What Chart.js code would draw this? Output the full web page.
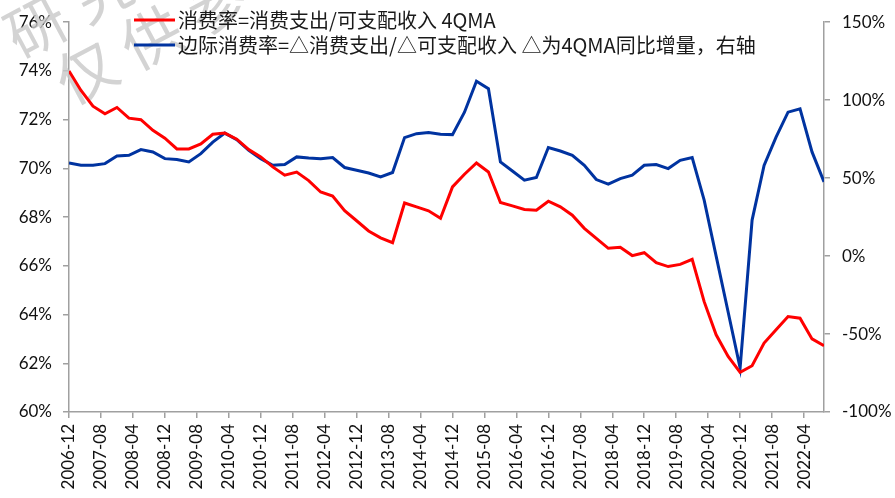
<!DOCTYPE html>
<html>
<head>
<meta charset="utf-8">
<script src="https://cdn.jsdelivr.net/npm/chart.js@4.4.1/dist/chart.umd.min.js"></script>
<style>
  html, body { margin: 0; padding: 0; background: #fff; }
  #wrap { width: 895px; height: 498px; }
</style>
</head>
<body>
<div id="wrap"><canvas id="chart" width="895" height="498"></canvas></div>
<script>
// 季度数据 (4QMA)
const quarters = [
  '2006-12','2007-03','2007-06','2007-09','2007-12','2008-03','2008-06','2008-09',
  '2008-12','2009-03','2009-06','2009-09','2009-12','2010-03','2010-06','2010-09',
  '2010-12','2011-03','2011-06','2011-09','2011-12','2012-03','2012-06','2012-09',
  '2012-12','2013-03','2013-06','2013-09','2013-12','2014-03','2014-06','2014-09',
  '2014-12','2015-03','2015-06','2015-09','2015-12','2016-03','2016-06','2016-09',
  '2016-12','2017-03','2017-06','2017-09','2017-12','2018-03','2018-06','2018-09',
  '2018-12','2019-03','2019-06','2019-09','2019-12','2020-03','2020-06','2020-09',
  '2020-12','2021-03','2021-06','2021-09','2021-12','2022-03','2022-06','2022-09'
];

// 消费率 (%), 左轴
const consumptionRate = [
  74.0, 73.2, 72.55, 72.24, 72.5, 72.06, 72.0, 71.56,
  71.24, 70.8, 70.8, 71.0, 71.4, 71.45, 71.2, 70.77,
  70.47, 70.06, 69.72, 69.85, 69.5, 69.03, 68.86, 68.26,
  67.85, 67.43, 67.15, 66.95, 68.58, 68.42, 68.26, 67.95,
  69.24, 69.76, 70.22, 69.85, 68.6, 68.46, 68.31, 68.28,
  68.65, 68.42, 68.08, 67.54, 67.13, 66.72, 66.76, 66.42,
  66.54, 66.13, 65.97, 66.06, 66.27, 64.53, 63.17, 62.28,
  61.63, 61.9, 62.83, 63.38, 63.92, 63.85, 63.0, 62.72
];

// 边际消费率 (%), 右轴
const marginalRate = [
  59.7, 58.2, 58.2, 59.3, 64.2, 64.6, 68.3, 66.8,
  62.5, 61.9, 60.4, 65.7, 73.1, 78.9, 74.7, 67.8,
  62.5, 58.2, 58.7, 63.6, 62.9, 62.5, 63.2, 56.8,
  55.1, 53.3, 50.8, 53.6, 76.0, 78.5, 79.2, 78.1,
  77.9, 92.3, 112.2, 107.3, 60.4, 54.6, 48.7, 50.4,
  69.6, 67.4, 64.6, 58.2, 49.1, 46.1, 49.7, 51.9,
  58.2, 58.7, 56.1, 61.4, 63.2, 35.9, 0.0, -35.9,
  -71.7, 23.1, 58.2, 76.3, 92.3, 94.5, 66.8, 47.6
];

const xTickLabels = [
  '2006-12','2007-08','2008-04','2008-12','2009-08','2010-04','2010-12','2011-08',
  '2012-04','2012-12','2013-08','2014-04','2014-12','2015-08','2016-04','2016-12',
  '2017-08','2018-04','2018-12','2019-08','2020-04','2020-12','2021-08','2022-04'
];

const seriesNames = [
  '消费率=消费支出/可支配收入 4QMA',
  '边际消费率=△消费支出/△可支配收入 △为4QMA同比增量，右轴'
];
const seriesColors = ['#FF0000', '#0033A0'];

const watermarkLines = ['研究报告', '仅供参考'];

// 月份序号 (相对 2006-12)
function monthIndex(s) {
  const [y, m] = s.split('-').map(Number);
  return (y - 2006) * 12 + m - 12;
}

const axisColor = '#A0A0A0';
const tickFont = { family: 'Lato', size: 17 };

const watermark = {
  id: 'watermark',
  beforeDatasetsDraw(chart) {
    const ctx = chart.ctx;
    ctx.save();
    ctx.fillStyle = 'rgba(200,200,200,0.8)';
    ctx.font = '60px "Noto Sans CJK SC"';
    ctx.textAlign = 'center';
    ctx.textBaseline = 'middle';
    const ang = -28 * Math.PI / 180;
    const starts = [[36, 26], [86, 72]];
    watermarkLines.forEach((line, li) => {
      [...line].forEach((ch, k) => {
        const x = starts[li][0] + k * 74 * Math.cos(ang);
        const y = starts[li][1] + k * 74 * Math.sin(ang);
        ctx.save();
        ctx.translate(x, y);
        ctx.rotate(ang);
        ctx.fillText(ch, 0, 0);
        ctx.restore();
      });
    });
    ctx.restore();
  }
};

const topLegend = {
  id: 'topLegend',
  afterDraw(chart) {
    const ctx = chart.ctx;
    ctx.save();
    ctx.font = '20px "Noto Sans CJK SC"';
    ctx.textBaseline = 'middle';
    ctx.fillStyle = '#1a1a1a';
    const rows = [20, 45];
    seriesNames.forEach((name, i) => {
      ctx.strokeStyle = seriesColors[i];
      ctx.lineWidth = 3;
      ctx.beginPath();
      ctx.moveTo(134, rows[i]);
      ctx.lineTo(175, rows[i]);
      ctx.stroke();
      ctx.fillText(name, 178, rows[i]);
    });
    ctx.restore();
  }
};

new Chart(document.getElementById('chart'), {
  type: 'line',
  data: {
    datasets: [
      {
        label: seriesNames[0],
        data: quarters.map((q, i) => ({ x: monthIndex(q), y: consumptionRate[i] })),
        borderColor: seriesColors[0],
        yAxisID: 'y'
      },
      {
        label: seriesNames[1],
        data: quarters.map((q, i) => ({ x: monthIndex(q), y: marginalRate[i] })),
        borderColor: seriesColors[1],
        yAxisID: 'y1'
      }
    ]
  },
  options: {
    responsive: false,
    animation: false,
    devicePixelRatio: 1,
    layout: { padding: { top: 21, left: 0, right: 0, bottom: 0 } },
    elements: {
      point: { radius: 0 },
      line: { borderWidth: 3, tension: 0 }
    },
    plugins: {
      legend: { display: false },
      tooltip: { enabled: false }
    },
    scales: {
      x: {
        type: 'linear',
        min: 0,
        max: monthIndex(quarters[quarters.length - 1]),
        afterBuildTicks: s => { s.ticks = xTickLabels.map(l => ({ value: monthIndex(l) })); },
        afterFit: s => { s.height = 86; },
        ticks: {
          autoSkip: false,
          minRotation: 90,
          maxRotation: 90,
          padding: 6,
          color: '#111',
          font: tickFont,
          callback: v => xTickLabels.find(l => monthIndex(l) === v) || ''
        },
        grid: { drawOnChartArea: false, drawTicks: true, tickLength: 6, color: axisColor, lineWidth: 1.5 },
        border: { display: true, color: axisColor, width: 1.5 }
      },
      y: {
        position: 'left',
        min: 60,
        max: 76,
        afterFit: s => { s.width = 69; },
        ticks: { stepSize: 2, padding: 11, color: '#111', font: tickFont, callback: v => v + '%' },
        grid: { drawOnChartArea: false, drawTicks: true, tickLength: 6, color: axisColor, lineWidth: 1.5 },
        border: { display: true, color: axisColor, width: 1.5 }
      },
      y1: {
        position: 'right',
        min: -100,
        max: 150,
        afterFit: s => { s.width = 71; },
        ticks: { stepSize: 50, padding: 12, color: '#111', font: tickFont, callback: v => v + '%' },
        grid: { drawOnChartArea: false, drawTicks: true, tickLength: 6, color: axisColor, lineWidth: 1.5 },
        border: { display: true, color: axisColor, width: 1.5 }
      }
    }
  },
  plugins: [watermark, topLegend]
});
</script>
</body>
</html>
